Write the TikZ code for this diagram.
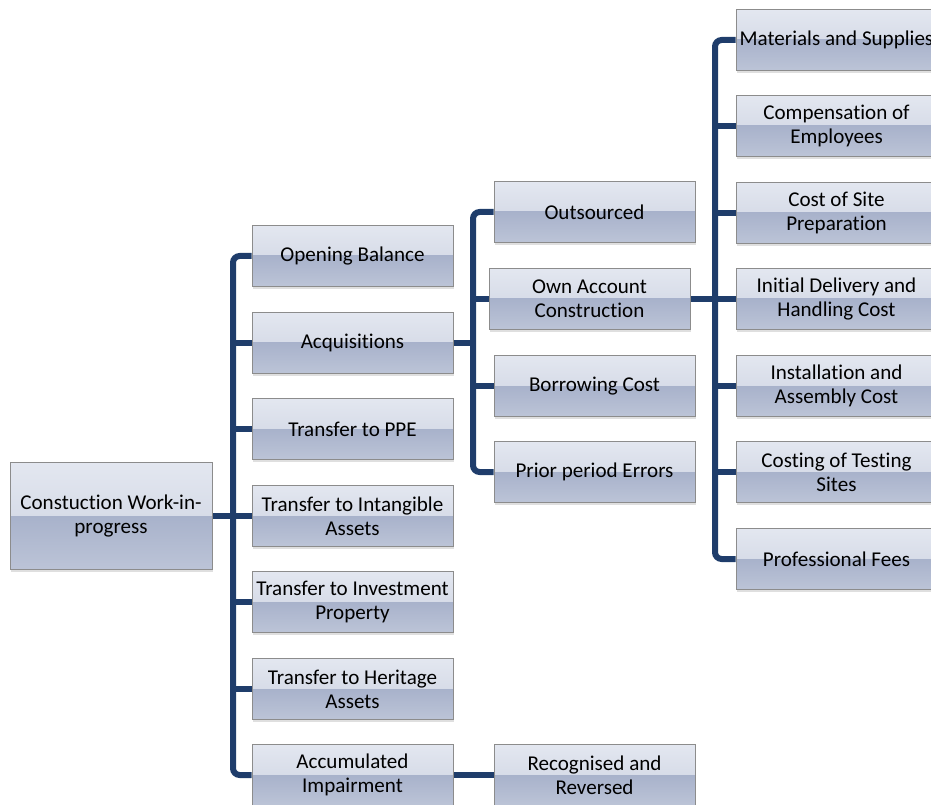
\documentclass[tikz,border=0pt]{standalone}
\usepackage{fontspec}
\setmainfont{Carlito}[Ligatures=NoCommon]
\usetikzlibrary{shadows,backgrounds}
\definecolor{navy}{RGB}{31,61,107}
\definecolor{edge}{RGB}{140,140,140}
\definecolor{gtop}{RGB}{227,231,240}
\definecolor{gmid}{RGB}{203,209,224}
\definecolor{glow}{RGB}{168,178,203}
\definecolor{gbot}{RGB}{188,196,215}
\newcommand\cwfont{\fontsize{15.8}{18}\selectfont}
\tikzset{
  box/.style={draw=edge, line width=0.6pt, minimum width=150.75pt,
    minimum height=45.75pt, inner sep=1pt, align=center, font=\cwfont,
    drop shadow={opacity=0.25, shadow xshift=1pt, shadow yshift=-2pt},
    path picture={
      \fill[top color=gtop, bottom color=gmid]
        (path picture bounding box.north west) rectangle (path picture bounding box.east);
      \fill[top color=glow, bottom color=gbot]
        (path picture bounding box.west) rectangle (path picture bounding box.south east);
    }},
  link/.style={draw=navy, line width=4.5pt, rounded corners=5pt}
}

\begin{document}
\begin{tikzpicture}[x=0.75pt, y=-0.75pt]
  \useasboundingbox (0,0) rectangle (931,805);
  % root
  \node[box, minimum width=151.5pt, minimum height=80.25pt] (cwip) at (111,516) {Constuction Work-in-\\progress};
  % first column
  \node[box] (ob)  at (352.5,256) {Opening Balance};
  \node[box] (acq) at (352.5,343) {Acquisitions};
  \node[box] (ppe) at (352.5,429) {Transfer to PPE};
  \node[box] (ia)  at (352.5,516) {Transfer to Intangible\\Assets};
  \node[box] (ip)  at (352.5,602) {Transfer to Investment\\Property};
  \node[box] (ha)  at (352.5,689) {Transfer to Heritage\\Assets};
  \node[box] (ai)  at (352.5,775) {Accumulated\\Impairment};
  % second column
  \node[box] (out) at (594.5,212) {Outsourced};
  \node[box] (oac) at (589.5,299) {Own Account\\Construction};
  \node[box] (bc)  at (594.5,386) {Borrowing Cost};
  \node[box] (ppr) at (594.5,472) {Prior period Errors};
  \node[box] (rr)  at (594.5,775) {Recognised and\\Reversed};
  % third column
  \node[box] (ms)  at (836.5,40)  {Materials and Supplies};
  \node[box] (ce)  at (836.5,126) {Compensation of\\Employees};
  \node[box] (csp) at (836.5,213) {Cost of Site\\Preparation};
  \node[box] (idh) at (836.5,299) {Initial Delivery and\\Handling Cost};
  \node[box] (iac) at (836.5,386) {Installation and\\Assembly Cost};
  \node[box] (cts) at (836.5,472) {Costing of Testing\\Sites};
  \node[box] (pf)  at (836.5,559) {Professional Fees};

  \coordinate (s1) at (233,516);
  \coordinate (s2) at (473,343);
  \coordinate (s3) at (715,299);

  \begin{scope}[on background layer]
  % spines
  \draw[link] (ob.west) -| (s1) |- (ai.west);
  \draw[link] (cwip.east) -- (ia.west);
  \foreach \n in {acq,ppe,ip,ha}
    \draw[link] (s1 |- \n.west) -- (\n.west);
  \draw[link] (out.west) -| (s2) |- (ppr.west);
  \draw[link] (acq.east) -- (s2);
  \foreach \n in {oac,bc}
    \draw[link] (s2 |- \n.west) -- (\n.west);
  \draw[link] (ms.west) -| (s3) |- (pf.west);
  \draw[link] (oac.east) -- (idh.west);
  \foreach \n in {ce,csp,iac,cts}
    \draw[link] (s3 |- \n.west) -- (\n.west);
  \draw[link] (ai.east) -- (rr.west);
  \end{scope}
\end{tikzpicture}
\end{document}
